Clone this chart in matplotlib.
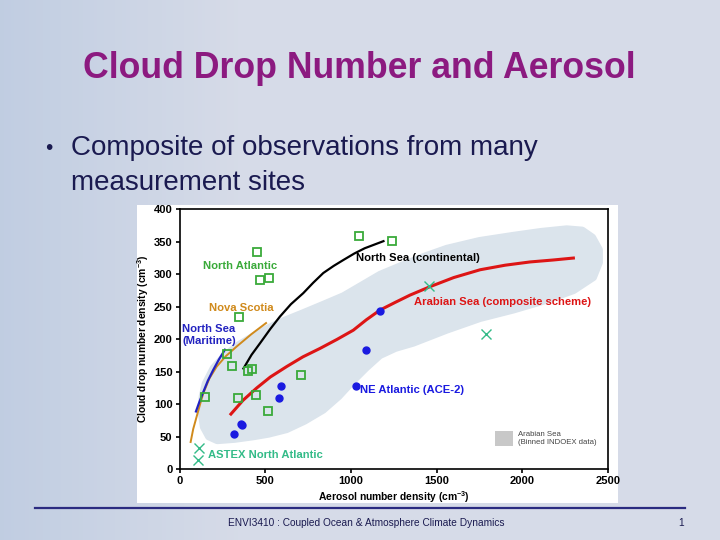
import numpy as np
import matplotlib
matplotlib.use("Agg")
import matplotlib.pyplot as plt
from matplotlib.patches import Rectangle, Polygon
from matplotlib.lines import Line2D

plt.rcParams['font.family'] = ['Liberation Sans', 'DejaVu Sans']
plt.rcParams['mathtext.fontset'] = 'custom'
plt.rcParams['mathtext.rm'] = 'Liberation Sans:bold'
plt.rcParams['mathtext.default'] = 'rm'

# ---------------- data ----------------
na_x = [454, 468, 522, 349, 279, 306, 401, 423, 151, 339, 445, 515, 707, 1045, 1238]
na_y = [335, 291, 295, 234, 178, 159, 151, 155, 111, 110, 114, 89, 145, 359, 352]

ace_x = [318, 357, 362, 590, 580, 1030, 1090, 1168]
ace_y = [55, 70, 68, 128, 110, 128, 183, 244]

astex_x = [112, 106]
astex_y = [33, 15]
arab_x = [1458, 1788]
arab_y = [282, 208]

cont_x = [373, 420, 470, 530, 586, 650, 722, 780, 839, 900, 956, 1020, 1080, 1140, 1190]
cont_y = [155, 176, 194, 216, 235, 254, 271, 287, 302, 313, 322, 332, 340, 346, 351]

comp_x = [300, 370, 450, 530, 625, 720, 820, 920, 1014, 1090, 1170, 1260, 1345, 1462, 1600, 1754, 1900, 2045, 2180, 2298]
comp_y = [85, 106, 125, 142, 158, 173, 186, 200, 214, 230, 245, 257, 268, 281, 295, 307, 314, 319, 322, 325]

nova_x = [65, 80, 100, 120, 139, 175, 217, 270, 334, 420, 505]
nova_y = [42, 62, 81, 100, 117, 140, 158, 174, 189, 208, 225]

mar_x = [96, 115, 139, 165, 197, 230, 265]
mar_y = [89, 103, 119, 136, 153, 169, 184]

band_x = [125, 132, 150, 197, 260, 334, 410, 489, 600, 722, 840, 956, 1060, 1170, 1306, 1430, 1559,
          1750, 1948, 2110, 2259, 2350, 2410, 2450, 2450, 2415, 2300,
          2142, 1948, 1754, 1559, 1364, 1260, 1170, 1090, 1014, 930, 839, 730, 625, 520, 431, 320, 220, 170, 139]
band_y = [90, 112, 132, 156, 174, 190, 202, 214, 228, 241, 254, 267, 283, 300, 315, 328, 340,
          352, 360, 366, 370, 368, 357, 338, 318, 295, 275,
          260, 245, 232, 214, 194, 186, 175, 156, 136, 112, 91, 74, 61, 54, 50, 46, 44, 50, 65]

xticks = [0, 500, 1000, 1500, 2000, 2500]
yticks = [0, 50, 100, 150, 200, 250, 300, 350, 400]

# ---------------- figure ----------------
W, H = 720, 540
fig = plt.figure(figsize=(7.2, 5.4), dpi=100)

# slide background
bg = fig.add_axes([0, 0, 1, 1])
bg.set_axis_off()
gx = np.linspace(0, 1, 200)[None, :]
gy = np.linspace(0, 1, 150)[:, None]
base = np.array([0.84, 0.86, 0.91])
left = np.array([0.70, 0.77, 0.87])
t = (np.clip(1 - gx * 3.0, 0, 1) * 0.6 + 0 * gy)[..., None]
img = base[None, None, :] * (1 - t) + left[None, None, :] * t
bg.imshow(img, extent=[0, 1, 0, 1], aspect='auto', zorder=0)
bg.set_xlim(0, 1)
bg.set_ylim(0, 1)

def fx(px):
    return px / W

def fy(py):
    return 1 - py / H

# title and bullets
fig.text(fx(359), fy(68), "Cloud Drop Number and Aerosol", ha='center', va='center',
         fontsize=25.7, fontweight='bold', color='#8c1a80')
fig.text(fx(49), fy(148), "\u2022", ha='center', va='center', fontsize=15, color='#1a1a50')
fig.text(fx(71), fy(148), "Composite of observations from many", ha='left', va='center',
         fontsize=20, color='#1a1a50')
fig.text(fx(71), fy(183), "measurement sites", ha='left', va='center',
         fontsize=20, color='#1a1a50')

# footer
bg.add_line(Line2D([fx(35), fx(685)], [fy(508), fy(508)], color='#2b2b80', lw=1.6))
fig.text(fx(366), fy(523), "ENVI3410 : Coupled Ocean & Atmosphere Climate Dynamics",
         ha='center', va='center', fontsize=7.3, color='#1a1a50')
fig.text(fx(681), fy(523), "1", ha='center', va='center', fontsize=7.3, color='#1a1a50')

# white chart panel
bg.add_patch(Rectangle((fx(137), fy(503)), fx(618) - fx(137), fy(205) - fy(503),
                       facecolor='white', edgecolor='none', zorder=1))

# ---------------- chart ----------------
ax = fig.add_axes([fx(179.5), fy(469.3), fx(608) - fx(179.5), fy(209.3) - fy(469.3)])
ax.set_xlim(0, 2500)
ax.set_ylim(0, 400)
ax.set_facecolor('white')

band_col = '#dbe4ec'
ax.add_patch(Polygon(list(zip(band_x, band_y)), closed=True, facecolor=band_col,
                     edgecolor=band_col, lw=5, joinstyle='round', zorder=1))

ax.plot(nova_x, nova_y, color='#d08a1c', lw=1.4, zorder=3)
ax.plot(mar_x, mar_y, color='#2323c0', lw=1.6, zorder=3)
ax.plot(cont_x, cont_y, color='black', lw=1.6, zorder=3)
ax.plot(comp_x, comp_y, color='#dd1515', lw=2.2, zorder=3)

ax.plot(na_x, na_y, 's', mfc='none', mec='#3aaa3a', ms=5.5, mew=1.3, zorder=4)
ax.plot(ace_x, ace_y, 'o', color='#1a1ae0', ms=5, zorder=4)
ax.plot(astex_x + arab_x, astex_y + arab_y, 'x', color='#33bb88', ms=7, mew=1.0, zorder=4)

tk = dict(fontsize=8.1, fontweight='bold')
ax.text(138, 313, "North Atlantic", color='#3aaa3a', va='center', ha='left', **tk)
ax.text(172, 248, "Nova Scotia", color='#d08a1c', va='center', ha='left', **tk)
ax.text(15, 207, "North Sea\n(Maritime)", color='#2323c0', va='center', ha='left',
        linespacing=1.2, **tk)
ax.text(1030, 325, "North Sea (continental)", color='black', va='center', ha='left', **tk)
ax.text(1369, 258, "Arabian Sea (composite scheme)", color='#dd1515', va='center', ha='left', **tk)
ax.text(1053, 122, "NE Atlantic (ACE-2)", color='#1a1ae0', va='center', ha='left', **tk)
ax.text(167, 22, "ASTEX North Atlantic", color='#33bb88', va='center', ha='left', **tk)

ax.add_patch(Rectangle((1842, 36), 105, 23, facecolor='#c8c8c8', edgecolor='none', zorder=2))
ax.text(1975, 47, "Arabian Sea\n(Binned INDOEX data)", color='#444444', fontsize=5.6,
        va='center', ha='left', linespacing=1.2)

ax.set_xticks(xticks)
ax.set_yticks(yticks)
ax.set_xticklabels([str(v) for v in xticks], fontsize=8, fontweight='bold')
ax.set_yticklabels([str(v) for v in yticks], fontsize=8, fontweight='bold')
ax.tick_params(direction='out', length=3, width=1.2, pad=2)
for s in ax.spines.values():
    s.set_linewidth(1.2)
ax.set_xlabel("Aerosol number density (cm$^{-3}$)", fontsize=7.4, fontweight='bold', labelpad=2)
ax.set_ylabel("Cloud drop number density (cm$^{-3}$)", fontsize=7.4, fontweight='bold', labelpad=2)

fig.savefig("out.png", dpi=100)
